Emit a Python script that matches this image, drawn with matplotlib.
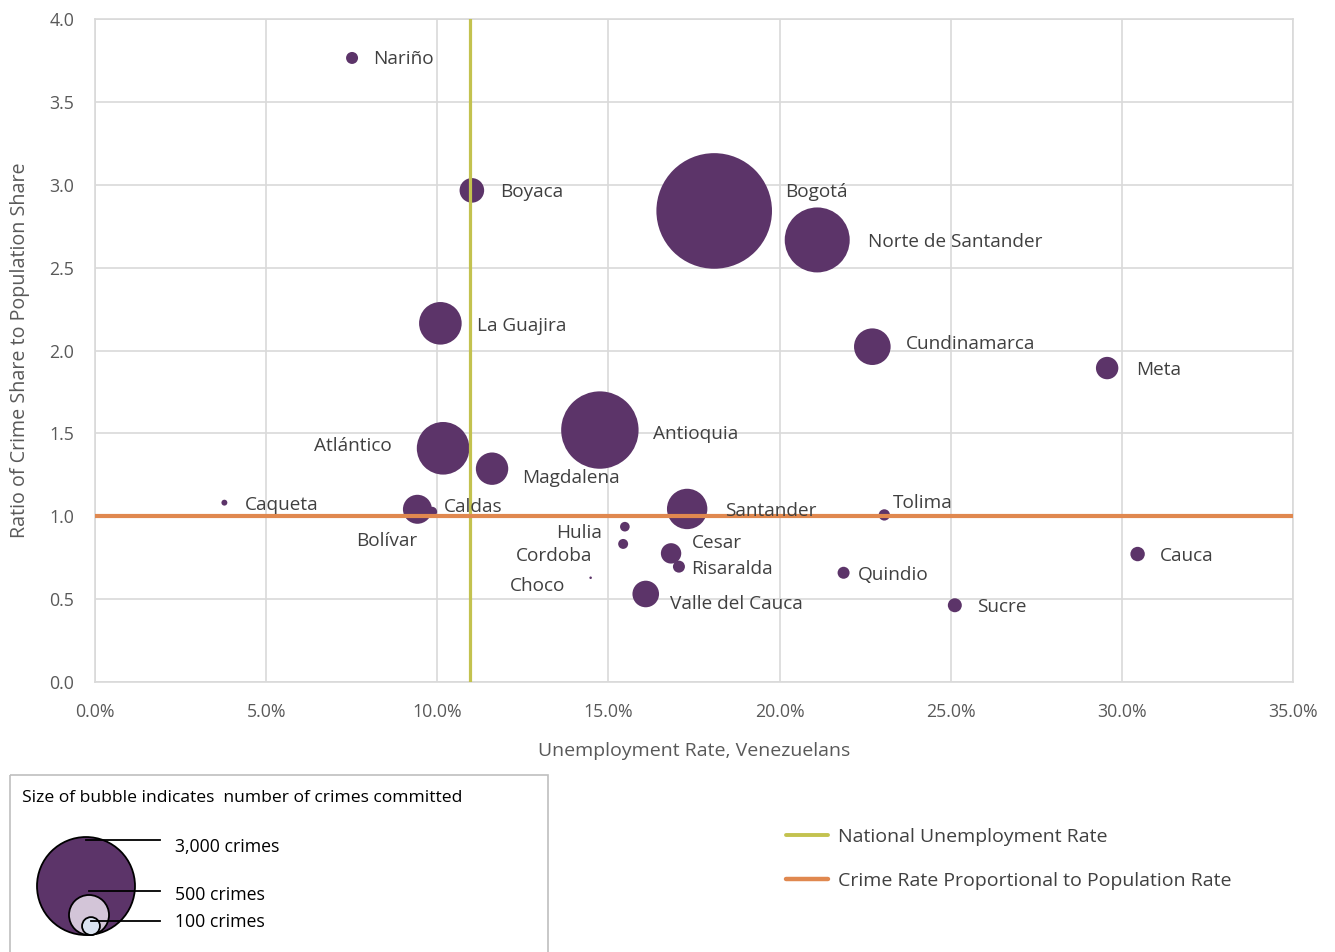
import numpy as np
import matplotlib
matplotlib.use("Agg")
import matplotlib.pyplot as plt
from matplotlib.patches import Circle, Rectangle
from matplotlib.ticker import FuncFormatter, MultipleLocator

# Department-level data
departments = ["Nariño", "Boyaca", "Bogotá", "Norte de Santander", "La Guajira",
               "Cundinamarca", "Meta", "Antioquia", "Atlántico", "Magdalena",
               "Caqueta", "Bolívar", "Caldas", "Santander", "Tolima", "Hulia",
               "Cordoba", "Cesar", "Risaralda", "Choco", "Valle del Cauca",
               "Quindio", "Sucre", "Cauca"]
unemployment = [7.51, 11.01, 18.09, 21.10, 10.09, 22.71, 29.57, 14.75, 10.17, 11.60,
                3.78, 9.42, 9.85, 17.30, 23.06, 15.48, 15.43, 16.83, 17.06, 14.48,
                16.09, 21.87, 25.12, 30.46]
crime_ratio = [3.765, 2.966, 2.842, 2.667, 2.164, 2.023, 1.894, 1.520, 1.410, 1.287,
               1.082, 1.042, 1.027, 1.044, 1.008, 0.937, 0.833, 0.776, 0.696, 0.629,
               0.531, 0.659, 0.463, 0.772]
crimes = [45, 189, 4176, 1320, 567, 419, 157, 1872, 865, 328,
          11, 263, 31, 510, 40, 29, 31, 130, 45, 2,
          221, 45, 61, 65]

national_unemployment = 10.96
proportional_ratio = 1.0
legend_crimes = [3000, 500, 100]
legend_crime_labels = ["3,000 crimes", "500 crimes", "100 crimes"]

# Label placement (pixel offsets from bubble centre, alignment)
label_offsets = [(21, 1), (28, 0), (71, 21), (51, 0), (37, -1),
                 (34, 5), (29, 0), (53, -2), (-51, 4), (30, -7),
                 (20, 0), (0, -30), (12, 7), (38, 0), (9, 14), (-23, -4),
                 (-31, -10), (21, 12), (12, 0), (-25, -6), (24, -8),
                 (14, 0), (22, 0), (22, 0)]
label_ha = ["left", "left", "left", "left", "left",
            "left", "left", "left", "right", "left",
            "left", "right", "left", "left", "left", "right",
            "right", "left", "left", "right", "left",
            "left", "left", "left"]
LABEL_SHIFT = -2

PURPLE = "#5c3469"
OLIVE = "#c3c24f"
ORANGE = "#e0884f"
TEXT = "#404040"
TICK = "#595959"
GRID = "#d9d9d9"
FONT = "Open Sans"

DPI = 100
W, H = 1335, 952
CRIMES_PER_PX2 = 1.25


def radius_px(c):
    return np.sqrt(np.asarray(c, dtype=float) / CRIMES_PER_PX2)


plt.rcParams["font.family"] = [FONT, "DejaVu Sans"]

fig = plt.figure(figsize=(W / DPI, H / DPI), dpi=DPI)
ax = fig.add_axes([95 / W, 1 - 682 / H, (1293 - 95) / W, (682 - 19) / H])

sizes = (2 * radius_px(crimes) * 72 / DPI) ** 2
ax.scatter(unemployment, crime_ratio, s=sizes, c=PURPLE, edgecolors="none", zorder=2)

ax.axvline(national_unemployment, color=OLIVE, lw=2.3, zorder=3)
ax.axhline(proportional_ratio, color=ORANGE, lw=3.0, zorder=3)

for name, x, y, off, ha in zip(departments, unemployment, crime_ratio, label_offsets, label_ha):
    ax.annotate(name, (x, y), xytext=(off[0], off[1] + LABEL_SHIFT), textcoords="offset pixels",
                ha=ha, va="center", fontsize=13.7, color=TEXT, zorder=4)

ax.set_xlim(0, 35)
ax.set_ylim(0, 4)
ax.xaxis.set_major_locator(MultipleLocator(5))
ax.yaxis.set_major_locator(MultipleLocator(0.5))
ax.xaxis.set_major_formatter(FuncFormatter(lambda v, p: f"{v:.1f}%"))
ax.yaxis.set_major_formatter(FuncFormatter(lambda v, p: f"{v:.1f}"))
ax.grid(True, color=GRID, lw=1.2, zorder=0)
ax.set_axisbelow(True)
for s in ax.spines.values():
    s.set_color(GRID)
    s.set_linewidth(1.2)
ax.tick_params(length=0, labelsize=12.8, labelcolor=TICK)
ax.tick_params(axis="x", pad=15)
ax.tick_params(axis="y", pad=15)
ax.set_xlabel("Unemployment Rate, Venezuelans", fontsize=14, color=TICK, labelpad=15)
ax.set_ylabel("Ratio of Crime Share to Population Share", fontsize=14.2, color=TICK, labelpad=14)

# Overlay in pixel coordinates for the legends
ov = fig.add_axes([0, 0, 1, 1], zorder=-1)
ov.set_xlim(0, W)
ov.set_ylim(H, 0)
ov.axis("off")

ov.add_patch(Rectangle((10, 775), 538, 200, fill=False, edgecolor="#bfbfbf", lw=1.2))
ov.text(22, 798, "Size of bubble indicates  number of crimes committed",
        fontsize=12.6, color="black", va="center", ha="left")

legend_fill = [PURPLE, "#d3c5d8", "#dbe3f1"]
bottom_y = 935
cx = [86, 89, 91]
label_y = [847, 895, 922]
line_y = [840, 891, 921]
for c, fc, x0, ly, lny, txt in zip(legend_crimes, legend_fill, cx, label_y, line_y, legend_crime_labels):
    r = float(radius_px(c))
    ov.add_patch(Circle((x0, bottom_y - r), r, facecolor=fc, edgecolor="black", lw=1.3))
    ov.plot([x0, 160], [lny, lny], color="black", lw=1.3)
    ov.text(175, ly, txt, fontsize=12.7, color="black", va="center", ha="left")

for yy, col, lw, txt in [(835, OLIVE, 2.8, "National Unemployment Rate"),
                         (879, ORANGE, 3.2, "Crime Rate Proportional to Population Rate")]:
    ov.plot([786, 828], [yy, yy], color=col, lw=lw, solid_capstyle="round")
    ov.text(838, yy + 2, txt, fontsize=14, color=TEXT, va="center", ha="left")

fig.savefig("out.png", dpi=DPI)
